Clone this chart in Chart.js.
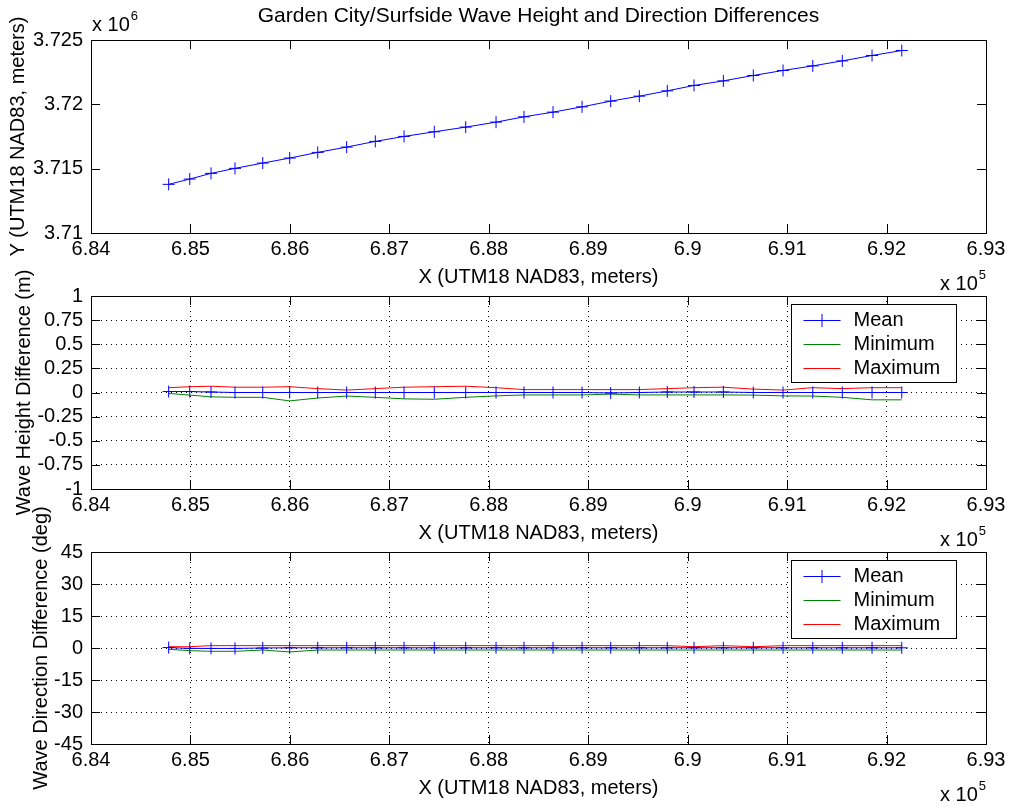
<!DOCTYPE html>
<html lang="en">
<head>
  <meta charset="UTF-8">
  <title>Garden City/Surfside Wave Height and Direction Differences</title>
  <script src="https://cdn.jsdelivr.net/npm/chart.js"></script>
  <style>
    body { margin: 0; background: #fff; }
    /* three charts stacked on the same 1011x809 area, each one owns a band */
    .stack { position: relative; width: 1011px; height: 809px; }
    .stack canvas { position: absolute; left: 0; top: 0; }
  </style>
</head>
<body>
  <div class="stack">
    <canvas id="posChart" width="1011" height="809"></canvas>
    <canvas id="heightChart" width="1011" height="809"></canvas>
    <canvas id="dirChart" width="1011" height="809"></canvas>
  </div>

  <script>
    // ---- data ----
    const xTickLabels = ['6.84', '6.85', '6.86', '6.87', '6.88', '6.89', '6.9', '6.91', '6.92', '6.93'];
    const posYTickLabels = ['3.71', '3.715', '3.72', '3.725'];
    const heightTickLabels = ['-1', '-0.75', '-0.5', '-0.25', '0', '0.25', '0.5', '0.75', '1'];
    const dirTickLabels = ['-45', '-30', '-15', '0', '15', '30', '45'];
    const legendLabels = ['Mean', 'Minimum', 'Maximum'];

    // station coordinates (UTM18 NAD83, m)
    const stationX = [684781, 684993, 685207, 685448, 685727, 685998, 686280, 686571, 686859, 687148,
                      687452, 687768, 688073, 688354, 688646, 688938, 689226, 689514, 689795, 690064,
                      690359, 690660, 690959, 691258, 691555, 691854, 692153];
    const stationY = [3713785, 3714197, 3714640, 3715028, 3715440, 3715829, 3716272, 3716684, 3717127, 3717515,
                      3717873, 3718238, 3718627, 3719039, 3719404, 3719816, 3720259, 3720647, 3721059, 3721479,
                      3721836, 3722256, 3722645, 3723002, 3723391, 3723810, 3724199];

    // wave height difference (m)
    const heightMean = [0.01, 0.01, 0.005, 0, 0, 0, 0, 0, 0, 0, 0, 0, 0, 0, 0, 0, -0.005, 0,
                        0.005, 0.005, 0.005, 0, 0, 0, 0, 0, 0];
    const heightMin = [-0.01, -0.027, -0.045, -0.05, -0.05, -0.087, -0.057, -0.037, -0.05, -0.066,
                       -0.07, -0.05, -0.035, -0.025, -0.025, -0.025, -0.017, -0.025, -0.025, -0.025,
                       -0.025, -0.027, -0.035, -0.037, -0.05, -0.076, -0.076];
    const heightMax = [0.05, 0.06, 0.065, 0.055, 0.055, 0.06, 0.04, 0.025, 0.04, 0.055,
                       0.06, 0.065, 0.05, 0.03, 0.03, 0.03, 0.03, 0.03, 0.04, 0.05,
                       0.055, 0.035, 0.025, 0.05, 0.04, 0.05, 0.05];

    // wave direction difference (deg)
    const dirMean = [0.2, -0.2, -0.2, -0.2, 0, 0.1, 0.1, 0.1, 0.1, 0.1, 0.1, 0.1, 0.1, 0.1, 0.1,
                     0.1, 0.1, 0.1, 0.1, 0.1, 0.1, 0.1, 0.1, 0.1, 0.1, 0.1, 0.1];
    const dirMin = [-0.6, -1.25, -1.55, -1.55, -0.95, -1.85, -0.95, -0.95, -0.95, -0.95, -0.95, -0.95,
                    -0.95, -0.95, -0.95, -0.95, -0.95, -0.95, -0.95, -0.95, -0.95, -0.95, -0.95, -0.95,
                    -0.95, -0.95, -0.95];
    const dirMax = [0.6, 0.6, 1.1, 1.1, 1.1, 1.1, 1.1, 1.1, 1.1, 1.1, 1.1, 1.1, 1.1, 1.1, 1.1,
                    1.1, 1.1, 1.1, 1.1, 0.6, 1.1, 0.6, 1.1, 1.1, 1.1, 1.1, 1.1];

    const FONT = "'Liberation Sans', Arial, sans-serif";
    Chart.defaults.font.family = FONT;
    Chart.defaults.font.size = 20;
    Chart.defaults.color = '#000';

    const BLUE = '#0000ff', GREEN = '#008000', RED = '#ff0000';

    const pts = vals => stationX.map((x, i) => ({ x: x, y: vals[i] }));

    // MATLAB-like frame: box, inward ticks on every side, legend box, exponent labels
    const matlabFrame = {
      id: 'matlabFrame',
      afterDraw(chart, args, opts) {
        const { ctx, chartArea: a, scales: { x, y } } = chart;
        ctx.save();
        ctx.strokeStyle = '#000';
        ctx.lineWidth = 1;
        ctx.beginPath();
        x.ticks.forEach(t => {
          const px = Math.round(x.getPixelForValue(t.value)) + 0.5;
          ctx.moveTo(px, a.bottom); ctx.lineTo(px, a.bottom - 9);
          ctx.moveTo(px, a.top); ctx.lineTo(px, a.top + 9);
        });
        y.ticks.forEach(t => {
          const py = Math.round(y.getPixelForValue(t.value)) + 0.5;
          ctx.moveTo(a.left, py); ctx.lineTo(a.left + 9, py);
          ctx.moveTo(a.right, py); ctx.lineTo(a.right - 9, py);
        });
        ctx.stroke();
        ctx.strokeRect(Math.round(a.left) + 0.5, Math.round(a.top) + 0.5,
                       Math.round(a.right - a.left), Math.round(a.bottom - a.top));

        ctx.fillStyle = '#000';
        ctx.textAlign = 'left';
        ctx.textBaseline = 'middle';
        const expLabel = (lx, ly, exp) => {
          ctx.font = '20px ' + FONT;
          ctx.fillText('x 10', lx, ly);
          const w = ctx.measureText('x 10').width;
          ctx.font = '13px ' + FONT;
          ctx.fillText(exp, lx + w + 1, ly - 8.5);
        };
        if (opts.xExp) expLabel(a.right - 46, a.bottom + 51, opts.xExp);
        if (opts.yExp) expLabel(a.left + 1, a.top - 15, opts.yExp);

        if (opts.legend) {
          const bw = 165, bh = 78;
          const bx = Math.round(a.right - 30 - bw) + 0.5, by = Math.round(a.top + 8) + 0.5;
          ctx.fillStyle = '#fff';
          ctx.fillRect(bx, by, bw, bh);
          ctx.strokeStyle = '#000';
          ctx.strokeRect(bx, by, bw, bh);
          ctx.font = '20px ' + FONT;
          chart.data.datasets.forEach((ds, i) => {
            const ry = Math.round(by + 15 + i * 24) + 0.5;
            ctx.strokeStyle = ds.borderColor;
            ctx.beginPath();
            ctx.moveTo(bx + 12, ry); ctx.lineTo(bx + 49, ry);
            if (ds.pointRadius) {
              ctx.moveTo(bx + 30.5, ry - 6.5); ctx.lineTo(bx + 30.5, ry + 6.5);
            }
            ctx.stroke();
            ctx.fillStyle = '#000';
            ctx.fillText(ds.label, bx + 62, ry);
          });
        }
        ctx.restore();
      }
    };

    // shared axis builders
    function xAxis(titlePadBottom, grid) {
      return {
        type: 'linear',
        min: 684000,
        max: 693000,
        ticks: {
          stepSize: 1000,
          padding: 4,
          autoSkip: false,
          maxRotation: 0,
          callback: (v, i) => xTickLabels[i]
        },
        grid: { display: grid, drawTicks: false, color: '#000' },
        border: { display: false, dash: [1, 4] },
        title: { display: true, text: 'X (UTM18 NAD83, meters)', padding: { top: 0, bottom: titlePadBottom } },
        afterFit: s => { s.height = 56; }
      };
    }

    function yAxis(min, max, step, labels, title, titlePad, grid) {
      return {
        type: 'linear',
        min: min,
        max: max,
        ticks: {
          stepSize: step,
          padding: 8,
          autoSkip: false,
          callback: (v, i) => labels[i]
        },
        grid: { display: grid, drawTicks: false, color: '#000' },
        border: { display: false, dash: [1, 4] },
        title: { display: true, text: title, padding: { top: titlePad, bottom: 0 } },
        afterFit: s => { s.width = 91; }
      };
    }

    const baseOptions = (pad, extra) => Object.assign({
      responsive: false,
      animation: false,
      events: [],
      layout: { autoPadding: false, padding: pad },
      elements: { line: { tension: 0, borderWidth: 1 } }
    }, extra);

    // ---- top: station positions ----
    new Chart(document.getElementById('posChart'), {
      type: 'line',
      data: {
        datasets: [{
          label: 'Stations',
          data: stationX.map((x, i) => ({ x: x, y: stationY[i] })),
          borderColor: BLUE,
          pointStyle: 'cross',
          pointRadius: 6,
          pointBorderColor: BLUE,
          pointBorderWidth: 1
        }]
      },
      options: baseOptions({ top: 0, left: 0, right: 25, bottom: 520 }, {
        scales: {
          x: xAxis(0, false),
          y: yAxis(3710000, 3725000, 5000, posYTickLabels, 'Y (UTM18 NAD83, meters)', 6, false)
        },
        plugins: {
          legend: { display: false },
          tooltip: { enabled: false },
          title: {
            display: true,
            fullSize: false,
            text: 'Garden City/Surfside Wave Height and Direction Differences',
            font: { size: 21, weight: 'normal' },
            color: '#000',
            padding: { top: 4, bottom: 11 }
          },
          matlabFrame: { xExp: '5', yExp: '6' }
        }
      }),
      plugins: [matlabFrame]
    });

    function statsChart(id, mean, lo, hi, pad, yOpts) {
      return new Chart(document.getElementById(id), {
        type: 'line',
        data: {
          datasets: [
            { label: legendLabels[0], data: pts(mean), borderColor: BLUE, pointStyle: 'cross',
              pointRadius: 6, pointBorderColor: BLUE, pointBorderWidth: 1 },
            { label: legendLabels[1], data: pts(lo), borderColor: GREEN, pointRadius: 0 },
            { label: legendLabels[2], data: pts(hi), borderColor: RED, pointRadius: 0 }
          ]
        },
        options: baseOptions(pad, {
          scales: { x: xAxis(0, true), y: yOpts },
          plugins: {
            legend: { display: false },
            tooltip: { enabled: false },
            matlabFrame: { xExp: '5', legend: true }
          }
        }),
        plugins: [matlabFrame]
      });
    }

    // ---- middle: wave height ----
    statsChart('heightChart', heightMean, heightMin, heightMax,
      { top: 296, left: 0, right: 25, bottom: 264 },
      yAxis(-1, 1, 0.25, heightTickLabels, 'Wave Height Difference (m)', 12, true));

    // ---- bottom: wave direction ----
    statsChart('dirChart', dirMean, dirMin, dirMax,
      { top: 552, left: 0, right: 25, bottom: 9 },
      yAxis(-45, 45, 15, dirTickLabels, 'Wave Direction Difference (deg)', 29, true));
  </script>
</body>
</html>
